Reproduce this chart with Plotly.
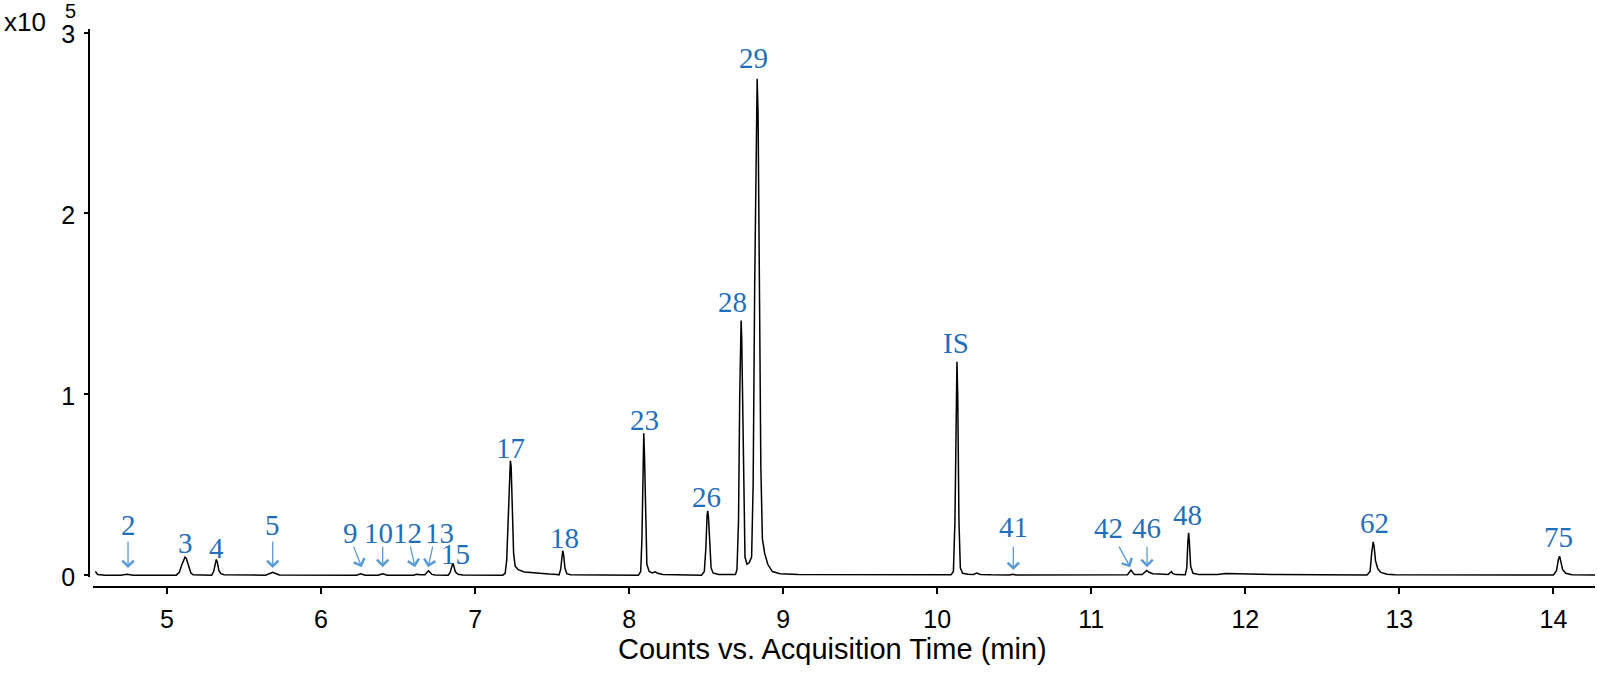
import plotly.graph_objects as go

# chromatogram trace, counts in units of 10^5
rt_min = [
    4.535, 4.55, 4.60,
    4.70, 4.74, 4.78,
    5.06, 5.08, 5.095, 5.11, 5.117, 5.125, 5.14, 5.155, 5.17,
    5.29, 5.303, 5.313, 5.32, 5.327, 5.337, 5.35, 5.37,
    5.64, 5.665, 5.686, 5.705, 5.73,
    6.23, 6.258, 6.285,
    6.37, 6.40, 6.43,
    6.60, 6.62, 6.645,
    6.675, 6.69, 6.697, 6.705, 6.72, 6.74,
    6.825, 6.838, 6.848, 6.855, 6.862, 6.872, 6.89, 6.92,
    7.18, 7.195, 7.205, 7.215, 7.224, 7.229, 7.234, 7.242, 7.25, 7.26, 7.28, 7.32, 7.40, 7.48, 7.53,
    7.545, 7.555, 7.563, 7.569, 7.575, 7.583, 7.595, 7.62,
    8.06, 8.075, 8.083, 8.09, 8.095, 8.100, 8.107, 8.115, 8.13, 8.15, 8.17, 8.185, 8.22, 8.30,
    8.47, 8.488, 8.498, 8.506, 8.51, 8.515, 8.523, 8.532, 8.545, 8.58, 8.67,
    8.69, 8.70, 8.71, 8.718, 8.724, 8.727, 8.731, 8.738, 8.745, 8.752, 8.765, 8.78,
    8.795, 8.805, 8.815, 8.825, 8.831, 8.837, 8.845, 8.855, 8.865, 8.88, 8.90, 8.93, 8.98, 9.10,
    10.09, 10.105, 10.115, 10.123, 10.128, 10.133, 10.141, 10.15, 10.165, 10.20, 10.235, 10.257, 10.28, 10.35,
    10.47, 10.49, 10.51,
    11.235, 11.25, 11.258, 11.266, 11.28,
    11.33, 11.35, 11.36, 11.375, 11.40, 11.44, 11.48,
    11.50, 11.515, 11.52, 11.53, 11.55,
    11.61, 11.62, 11.627, 11.632, 11.637, 11.645, 11.66, 11.70,
    11.82, 11.87, 11.95, 12.05, 12.20,
    12.79, 12.81, 12.82, 12.83, 12.836, 12.845, 12.86, 12.88, 12.92, 12.97,
    14.00, 14.02, 14.032, 14.04, 14.047, 14.06, 14.08, 14.12,
    14.30,
]
counts_e5 = [
    0.02, 0.004, 0.0,
    0.0, 0.005, 0.0,
    0.0, 0.015, 0.055, 0.095, 0.10, 0.093, 0.045, 0.012, 0.002,
    0.0, 0.02, 0.07, 0.087, 0.07, 0.025, 0.008, 0.002,
    0.0, 0.009, 0.016, 0.009, 0.001,
    0.0, 0.008, 0.0,
    0.0, 0.008, 0.0,
    0.0, 0.005, 0.002,
    0.002, 0.018, 0.024, 0.017, 0.004, 0.001,
    0.0, 0.015, 0.05, 0.065, 0.05, 0.018, 0.005, 0.001,
    0.0, 0.01, 0.08, 0.35, 0.60, 0.633, 0.60, 0.35, 0.12, 0.05, 0.03, 0.018, 0.01, 0.006, 0.004,
    0.002, 0.03, 0.11, 0.135, 0.11, 0.04, 0.008, 0.002,
    0.0, 0.02, 0.2, 0.65, 0.784, 0.65, 0.25, 0.06, 0.02, 0.012, 0.018, 0.01, 0.004, 0.002,
    0.0, 0.02, 0.15, 0.33, 0.356, 0.32, 0.15, 0.04, 0.012, 0.004, 0.003,
    0.004, 0.03, 0.3, 1.0, 1.38, 1.408, 1.3, 0.8, 0.3, 0.1, 0.06, 0.07,
    0.1, 0.5, 1.6, 2.6, 2.745, 2.55, 1.6, 0.6, 0.2, 0.12, 0.06, 0.02, 0.008, 0.003,
    0.002, 0.02, 0.3, 1.0, 1.18, 1.0, 0.3, 0.04, 0.01, 0.005, 0.004, 0.012, 0.004, 0.002,
    0.001, 0.005, 0.001,
    0.002, 0.018, 0.028, 0.018, 0.003,
    0.003, 0.02, 0.026, 0.016, 0.008, 0.006, 0.004,
    0.004, 0.016, 0.02, 0.008, 0.003,
    0.002, 0.04, 0.18, 0.234, 0.18, 0.05, 0.01, 0.003,
    0.003, 0.009, 0.008, 0.005, 0.003,
    0.001, 0.02, 0.12, 0.184, 0.16, 0.08, 0.035, 0.015, 0.005, 0.002,
    0.001, 0.025, 0.085, 0.105, 0.08, 0.03, 0.01, 0.002,
    0.0,
]

# peak labels: text, x (min), y (10^5)
peak_labels = ["2", "3", "4", "5", "9", "10", "12", "13", "15", "17", "18", "23", "26",
               "28", "29", "IS", "41", "42", "46", "48", "62", "75"]
label_x = [4.747, 5.121, 5.323, 5.686, 6.188, 6.370, 6.562, 6.770, 6.870, 7.227, 7.578,
           8.097, 8.505, 8.669, 8.81, 10.123, 10.494, 11.11, 11.357, 11.623, 12.838, 14.032]
label_y = [0.277, 0.177, 0.151, 0.277, 0.232, 0.232, 0.232, 0.232, 0.116, 0.703, 0.205,
           0.858, 0.433, 1.511, 2.862, 1.284, 0.266, 0.26, 0.26, 0.332, 0.288, 0.21]

# arrows for the small peaks: tail (x, y) -> tip (x, y)
arrow_tail_x = [4.747, 5.686, 6.208, 6.40, 6.578, 6.727, 10.494, 11.175, 11.362]
arrow_tail_y = [0.194, 0.194, 0.166, 0.166, 0.166, 0.166, 0.166, 0.166, 0.166]
arrow_tip_x = [4.747, 5.686, 6.264, 6.40, 6.610, 6.695, 10.494, 11.253, 11.362]
arrow_tip_y = [0.039, 0.039, 0.044, 0.044, 0.044, 0.044, 0.028, 0.044, 0.044]

blue = "#1f6fba"
arrow_blue = "#5b9bd5"
sans = "Arial, Liberation Sans, sans-serif"
serif = "Liberation Serif, Times New Roman, serif"

fig = go.Figure(go.Scatter(
    x=rt_min, y=counts_e5, mode="lines",
    line={"width": 1.5, "color": "black"},
    hoverinfo="skip",
))

for t, x, y in zip(peak_labels, label_x, label_y):
    fig.add_annotation(x=x, y=y, xref="x", yref="y", text=t, showarrow=False,
                       xanchor="center", yanchor="middle",
                       font={"family": serif, "size": 29, "color": blue})

for tx, ty, hx, hy in zip(arrow_tail_x, arrow_tail_y, arrow_tip_x, arrow_tip_y):
    fig.add_annotation(x=hx, y=hy, ax=tx, ay=ty, xref="x", yref="y", axref="x", ayref="y",
                       text="", showarrow=True, arrowhead=4, arrowsize=1.7,
                       arrowwidth=1.3, arrowcolor=arrow_blue)

fig.add_annotation(x=-0.0425, y=1.0125, xref="paper", yref="paper", text="x10",
                   showarrow=False, xanchor="center", yanchor="middle",
                   font={"family": sans, "size": 26, "color": "black"})
fig.add_annotation(x=-0.0126, y=1.033, xref="paper", yref="paper", text="5",
                   showarrow=False, xanchor="center", yanchor="middle",
                   font={"family": sans, "size": 20, "color": "black"})
fig.add_annotation(x=0.494, y=-0.111, xref="paper", yref="paper",
                   text="Counts vs. Acquisition Time (min)", showarrow=False,
                   xanchor="center", yanchor="middle",
                   font={"family": sans, "size": 29, "color": "black"})

fig.update_xaxes(range=[4.52, 14.27], domain=[0.0027, 1], anchor="free", position=0,
                 tickvals=[5, 6, 7, 8, 9, 10, 11, 12, 13, 14],
                 showgrid=False, zeroline=False, showline=True, linewidth=2, linecolor="black",
                 ticks="outside", ticklen=6, tickwidth=1.5, tickcolor="black",
                 ticklabelstandoff=4,
                 tickfont={"family": sans, "size": 25, "color": "black"})
fig.update_yaxes(range=[-0.01, 3.02], domain=[0.018, 1], anchor="free", position=0,
                 tickvals=[0, 1, 2, 3],
                 showgrid=False, zeroline=False, showline=True, linewidth=1.5, linecolor="black",
                 ticks="outside", ticklen=4, tickwidth=1.5, tickcolor="black",
                 ticklabelstandoff=4, ticklabelshift=2,
                 tickfont={"family": sans, "size": 25, "color": "black"})
fig.update_layout(width=1597, height=680, showlegend=False,
                  margin={"l": 89, "r": 2, "t": 29, "b": 93},
                  paper_bgcolor="white", plot_bgcolor="white")

# drop the default 8px page margin so the figure fills the window
fig.write_html("out.html", config={"displayModeBar": False},
               post_script="document.body.style.margin='0';")
